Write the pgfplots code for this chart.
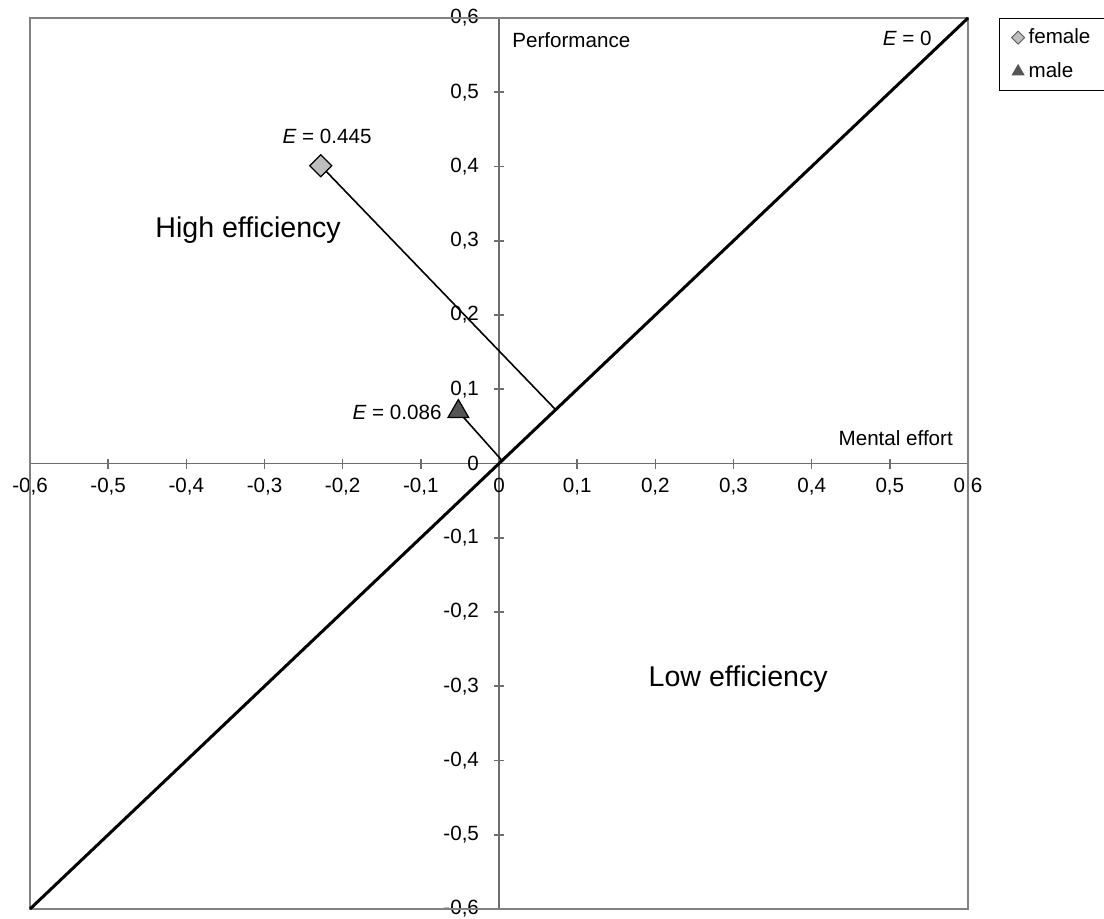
\documentclass[border=0pt]{standalone}
\usepackage{fontspec}
\setmainfont{Liberation Sans}
\usepackage{pgfplots}
\pgfplotsset{compat=1.18}

\definecolor{axisgray}{RGB}{110,110,110}
\definecolor{framegray}{RGB}{130,130,130}
\definecolor{femalefill}{RGB}{190,190,190}
\definecolor{malefill}{RGB}{85,85,85}

\begin{document}
\begin{tikzpicture}
\useasboundingbox (-15pt,-4.5pt) rectangle (537pt,454.5pt);
\begin{axis}[
  at={(0,0)}, anchor=south west,
  scale only axis, width=469pt, height=445.5pt,
  xmin=-0.6, xmax=0.6, ymin=-0.6, ymax=0.6,
  axis lines=middle,
  axis line style={-, axisgray, line width=0.9pt},
  hide obscured x ticks=false, hide obscured y ticks=false,
  xtick={-0.6,-0.5,-0.4,-0.3,-0.2,-0.1,0,0.1,0.2,0.3,0.4,0.5,0.6},
  ytick={-0.6,-0.5,-0.4,-0.3,-0.2,-0.1,0,0.1,0.2,0.3,0.4,0.5,0.6},
  xticklabels={-0{,}6,-0{,}5,-0{,}4,-0{,}3,-0{,}2,-0{,}1,0,0{,}1,0{,}2,0{,}3,0{,}4,0{,}5,0{,}6},
  yticklabels={-0{,}6,-0{,}5,-0{,}4,-0{,}3,-0{,}2,-0{,}1,0,0{,}1,0{,}2,0{,}3,0{,}4,0{,}5,0{,}6},
  tick align=center, major tick length=5pt,
  tick style={axisgray, line width=0.8pt},
  ticklabel style={font=\fontsize{10.3}{12}\selectfont, text=black},
  xticklabel style={anchor=north, yshift=-1.5pt},
  yticklabel style={anchor=east, xshift=-4pt},
  clip=false,
  legend style={at={(rel axis cs:1,1)}, anchor=north west, xshift=15.5pt,
    draw=black, line width=0.6pt, font=\fontsize{10.3}{12}\selectfont,
    inner xsep=6pt, inner ysep=3pt, row sep=4pt,
    /tikz/every even column/.append style={column sep=1pt}},
  legend cell align=left,
]
% frame around the plot region
\draw[framegray, line width=0.7pt] (rel axis cs:0,0) rectangle (rel axis cs:1,1);

% legend symbols
\addlegendimage{only marks, mark=square*, mark size=2.3pt,
  mark options={rotate=45, fill=femalefill, draw=gray!70!black, line width=0.4pt}}
\addlegendentry{female}
\addlegendimage{only marks, mark=triangle*, mark size=3.2pt,
  mark options={fill=malefill, draw=malefill}}
\addlegendentry{male}

% line of zero efficiency
\addplot[black, line width=1.5pt, forget plot] coordinates {(-0.6,-0.6) (0.6,0.6)};

% distances of the group means to the line E = 0
\addplot[black, line width=0.8pt, forget plot] coordinates {(-0.228,0.401) (0.072,0.073)};
\addplot[black, line width=0.8pt, forget plot] coordinates {(-0.052,0.070) (0.003,0.005)};

% group means
\addplot[only marks, mark=square*, mark size=3.9pt,
  mark options={rotate=45, fill=femalefill, draw=black, line width=0.6pt}, forget plot]
  coordinates {(-0.228,0.401)};
\addplot[only marks, mark=triangle*, mark size=6pt,
  mark options={fill=malefill, draw=black, line width=0.6pt}, forget plot]
  coordinates {(-0.052,0.070)};

% annotations
\node[font=\fontsize{10.3}{12}\selectfont] at (axis cs:-0.220,0.440) {\textit{E} = 0.445};
\node[anchor=east, font=\fontsize{10.3}{12}\selectfont, inner sep=0pt] at (axis cs:-0.073,0.069) {\textit{E} = 0.086};
\node[anchor=east, font=\fontsize{10.3}{12}\selectfont, inner sep=0pt] at (axis cs:0.554,0.573) {\textit{E} = 0};
\node[anchor=west, font=\fontsize{10.3}{12}\selectfont, inner sep=0pt] at (axis cs:0.0166,0.570) {Performance};
\node[anchor=east, font=\fontsize{10.3}{12}\selectfont, inner sep=0pt] at (axis cs:0.581,0.034) {Mental effort};
\node[font=\fontsize{14.3}{17}\selectfont] at (axis cs:-0.321,0.314) {High efficiency};
\node[font=\fontsize{14.3}{17}\selectfont] at (axis cs:0.306,-0.290) {Low efficiency};
\end{axis}
\end{tikzpicture}
\end{document}
